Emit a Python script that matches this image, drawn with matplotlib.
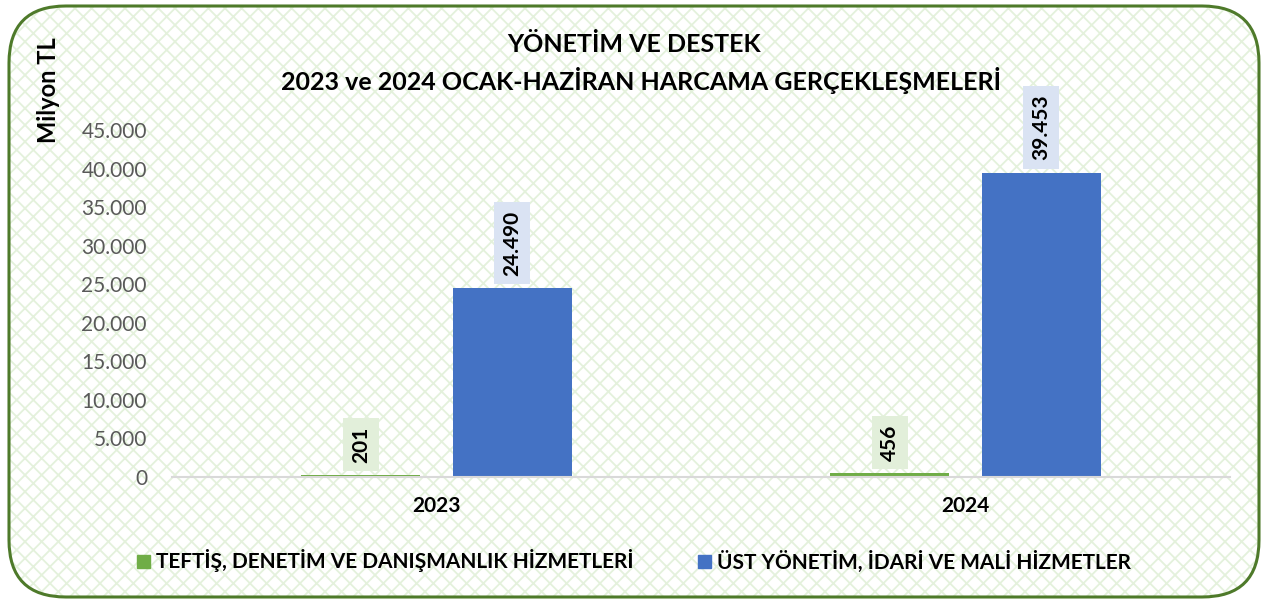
import matplotlib
matplotlib.use("Agg")
import matplotlib.pyplot as plt
from matplotlib.patches import FancyBboxPatch, Patch
import numpy as np

plt.rcParams['font.family'] = ['Lato', 'DejaVu Sans']
plt.rcParams['hatch.linewidth'] = 1.3

categories = ["2023", "2024"]
series_names = ["TEFTİŞ, DENETİM VE DANIŞMANLIK HİZMETLERİ",
                "ÜST YÖNETİM, İDARİ VE MALİ HİZMETLER"]
teftis = [201, 456]
ust = [24490, 39453]
label_teftis = ["201", "456"]
label_ust = ["24.490", "39.453"]
yticks = [0, 5000, 10000, 15000, 20000, 25000, 30000, 35000, 40000, 45000]
ytick_labels = ["0", "5.000", "10.000", "15.000", "20.000", "25.000",
                "30.000", "35.000", "40.000", "45.000"]

green = "#70ad47"
blue = "#4472c4"
green_box = "#e2efda"
blue_box = "#dae3f3"

W, H = 1266, 599
fig = plt.figure(figsize=(W / 100, H / 100), dpi=100)
fig.patch.set_facecolor("white")

# background with lattice pattern
x0, y0, x1, y1 = 9 / W, 1 - 597 / H, 1259 / W, 1 - 6 / H
bg = FancyBboxPatch((x0, y0), x1 - x0, y1 - y0,
                    boxstyle="round,pad=0,rounding_size=0.045",
                    transform=fig.transFigure, facecolor="white",
                    edgecolor="#e4f1dc", hatch="xx", linewidth=0, zorder=0,
                    mutation_aspect=W / H)
fig.patches.append(bg)
border = FancyBboxPatch((x0, y0), x1 - x0, y1 - y0,
                        boxstyle="round,pad=0,rounding_size=0.045",
                        transform=fig.transFigure, facecolor="none",
                        edgecolor="#4e7a2a", linewidth=2.2, zorder=1,
                        mutation_aspect=W / H)
fig.patches.append(border)

ax = fig.add_axes([172 / W, 1 - 477 / H, (1230 - 172) / W, (477 - 130) / H])
ax.set_facecolor("none")
ax.set_zorder(3)

x = np.arange(len(categories))
off = 0.143
bw = 0.225
b1 = ax.bar(x - off, teftis, bw, color=green, zorder=2)
b2 = ax.bar(x + off, ust, bw, color=blue, zorder=2)

for xi, v, lab in zip(x - off, teftis, label_teftis):
    ax.annotate(lab, (xi, v), xytext=(0, 9), textcoords="offset points",
                rotation=90, ha="center", va="bottom", fontsize=15,
                fontweight="bold", color="black", annotation_clip=False,
                bbox=dict(boxstyle="square,pad=0.4", fc=green_box, ec="none"))
for xi, v, lab in zip(x + off, ust, label_ust):
    ax.annotate(lab, (xi, v), xytext=(0, 9), textcoords="offset points",
                rotation=90, ha="center", va="bottom", fontsize=15,
                fontweight="bold", color="black", annotation_clip=False,
                bbox=dict(boxstyle="square,pad=0.4", fc=blue_box, ec="none"))

ax.set_xlim(-0.5, 1.5)
ax.set_ylim(0, 45000)
ax.set_yticks(yticks)
ax.set_yticklabels(ytick_labels, fontsize=15, color="#595959")
ax.set_xticks(x)
ax.set_xticklabels(categories, fontsize=15, fontweight="bold", color="black")
ax.tick_params(axis="both", length=0)
ax.tick_params(axis="y", pad=18)
ax.tick_params(axis="x", pad=14)
for s in ["top", "right", "left"]:
    ax.spines[s].set_visible(False)
ax.spines["bottom"].set_color("#d9d9d9")
ax.spines["bottom"].set_linewidth(1.5)

fig.text(49 / W, 1 - 90 / H, "Milyon TL", rotation=90, ha="center",
         va="center", fontsize=17, fontweight="bold")
fig.text(634 / W, 1 - 45 / H, "YÖNETİM VE DESTEK", ha="center",
         va="center", fontsize=18, fontweight="bold")
fig.text(641 / W, 1 - 80 / H,
         "2023 ve 2024 OCAK-HAZİRAN HARCAMA GERÇEKLEŞMELERİ",
         ha="center", va="center", fontsize=18, fontweight="bold")

handles = [Patch(color=green, label=series_names[0]),
           Patch(color=blue, label=series_names[1])]
leg = fig.legend(handles=handles, loc="center",
                 bbox_to_anchor=(634 / W, 1 - 561 / H), ncol=2, frameon=False,
                 prop=dict(size=15, weight="bold"), handlelength=0.6,
                 handleheight=0.6, handletextpad=0.3, columnspacing=3.1)

fig.savefig("out.png", dpi=100, facecolor="white")
